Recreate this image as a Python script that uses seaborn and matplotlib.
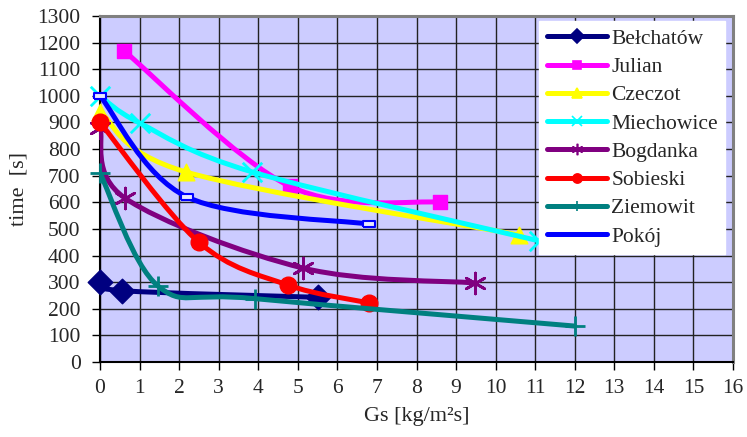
import numpy as np
import pandas as pd
import matplotlib
matplotlib.use("Agg")
import matplotlib.pyplot as plt
import seaborn as sns
from matplotlib.path import Path
from matplotlib.patches import PathPatch
from matplotlib.lines import Line2D

# ---------------- data ----------------
series_names = ["Bełchatów", "Julian", "Czeczot", "Miechowice",
                "Bogdanka", "Sobieski", "Ziemowit", "Pokój"]

belchatow_x = [0.0, 0.55, 5.5]
belchatow_y = [300, 268, 243]
julian_x = [0.6, 4.8, 8.6]
julian_y = [1170, 660, 600]
czeczot_x = [0.0, 2.17, 10.6]
czeczot_y = [940, 714, 477]
miechowice_x = [0.0, 1.0, 3.85, 11.1]
miechowice_y = [1000, 898, 714, 455]
bogdanka_x = [0.0, 0.63, 5.13, 9.47]
bogdanka_y = [880, 616, 353, 297]
sobieski_x = [0.0, 2.5, 4.75, 6.8]
sobieski_y = [900, 450, 289, 222]
ziemowit_x = [0.0, 1.47, 3.92, 12.0]
ziemowit_y = [710, 285, 238, 135]
pokoj_x = [0.0, 2.2, 6.8]
pokoj_y = [1000, 620, 518]

x_ticks = list(range(0, 17))
y_ticks = list(range(0, 1301, 100))

xs = [belchatow_x, julian_x, czeczot_x, miechowice_x,
      bogdanka_x, sobieski_x, ziemowit_x, pokoj_x]
ys = [belchatow_y, julian_y, czeczot_y, miechowice_y,
      bogdanka_y, sobieski_y, ziemowit_y, pokoj_y]

# ---------------- styles ----------------
colors = ["#000080", "#FF00FF", "#FFFF00", "#00FFFF",
          "#800080", "#FF0000", "#008080", "#0000FF"]
dash_marker = [(-1, -0.45), (1, -0.45), (1, 0.45), (-1, 0.45), (-1, -0.45)]
markers = ["D", "s", "^", "x", (6, 2, 0), "o", "+", dash_marker]
msizes = [12.5, 10, 12, 14, 15, 12, 14, 9]
mew = [1, 1, 1, 2, 2, 1, 2, 1.5]
lfc = [None, None, None, None, None, None, None, "#E8E8FF"]

sns.set_style("white")
plt.rcParams["font.family"] = ["Liberation Serif", "DejaVu Serif"]

fig = plt.figure(figsize=(7.47, 4.37), dpi=100)
ax = fig.add_axes([100 / 747, 1 - 362 / 437, 633 / 747, 346 / 437])
ax.set_facecolor("#CCCCFF")


def smooth_path(px, py, t=1.0 / 6.0):
    pts = np.column_stack([px, py]).astype(float)
    n = len(pts)
    verts = [pts[0]]
    codes = [Path.MOVETO]
    for i in range(n - 1):
        p_prev = pts[i - 1] if i > 0 else pts[i]
        p_next2 = pts[i + 2] if i + 2 < n else pts[i + 1]
        c1 = pts[i] + (pts[i + 1] - p_prev) * t
        c2 = pts[i + 1] - (p_next2 - pts[i]) * t
        verts += [c1, c2, pts[i + 1]]
        codes += [Path.CURVE4] * 3
    return Path(verts, codes)


handles = []
for k, name in enumerate(series_names):
    z = 3 + k * 2
    patch = PathPatch(smooth_path(xs[k], ys[k]), fill=False,
                      edgecolor=colors[k], lw=3.6, capstyle="round",
                      joinstyle="round", zorder=z)
    ax.add_patch(patch)
    df = pd.DataFrame({"x": xs[k], "y": ys[k]})
    fc = lfc[k] if lfc[k] else colors[k]
    sns.scatterplot(data=df, x="x", y="y", ax=ax, marker=markers[k],
                    s=msizes[k] ** 2, color=fc, edgecolor=colors[k],
                    linewidth=mew[k], zorder=z + 1, legend=False)
    ax.collections[-1].set_clip_on(False)
    hm = markers[k] if k != 7 else "None"
    handles.append(Line2D([], [], color=colors[k], lw=3.6,
                          marker=hm, markersize=msizes[k] * 0.55,
                          markeredgewidth=1.2, solid_capstyle="round",
                          label=name))

ax.set_xlim(0, 16)
ax.set_ylim(0, 1300)
ax.set_xticks(x_ticks)
ax.set_yticks(y_ticks)
ax.set_xticklabels([str(v) for v in x_ticks], fontsize=15.5)
ax.set_yticklabels([str(v) for v in y_ticks], fontsize=15.5)
ax.grid(True, color="#222222", lw=1.0, zorder=1)
ax.set_axisbelow(True)
ax.tick_params(axis="y", direction="out", length=6, width=1,
               color="black", pad=8, left=True)
ax.tick_params(axis="x", direction="out", length=6, width=1,
               color="black", pad=6, bottom=True)

for side in ["left", "bottom"]:
    ax.spines[side].set_color("black")
    ax.spines[side].set_linewidth(1.5)
for side in ["top", "right"]:
    ax.spines[side].set_color("#808080")
    ax.spines[side].set_linewidth(2.2)

ax.set_xlabel("Gs [kg/m²s]", fontsize=16, labelpad=7)
ax.set_ylabel("time  [s]", fontsize=16, labelpad=6)

leg = ax.legend(handles=handles, loc="upper right",
                bbox_to_anchor=(0.988, 0.985), fontsize=15.5,
                frameon=True, fancybox=False, framealpha=1,
                edgecolor="white", facecolor="white",
                handlelength=2.8, handletextpad=0.2, labelspacing=0.38,
                borderpad=0.35, borderaxespad=0)
leg.set_zorder(50)

fig.savefig("out.png", dpi=100)
